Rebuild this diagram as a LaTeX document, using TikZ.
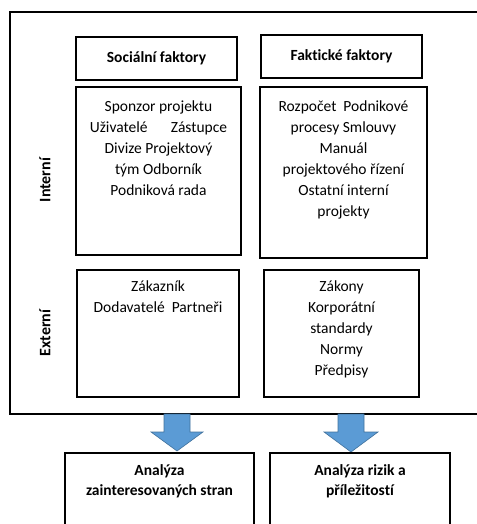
\documentclass[tikz,border=0pt]{standalone}
\usepackage{fontspec}
\setmainfont{Carlito}[Ligatures=NoCommon]

\definecolor{arrowblue}{HTML}{5B9BD5}
\definecolor{arrowedge}{HTML}{41719C}

\tikzset{
  box/.style={draw, line width=1.2pt, fill=white, inner sep=0pt},
  headbox/.style={box, font=\fontsize{15.5}{20}\selectfont\bfseries},
  boxtext/.style={anchor=north, align=center, inner sep=0pt,
    font=\fontsize{15.5}{21}\selectfont},
  sidelabel/.style={rotate=90, inner sep=0pt, font=\fontsize{16}{19}\selectfont\bfseries},
  blockarrow/.style={fill=arrowblue, draw=arrowedge, line width=0.6pt},
}

\begin{document}
\begin{tikzpicture}[x=1pt, y=-1pt]
  \useasboundingbox (0,0) rectangle (476,524);
  \draw[line width=1.8pt] (10,12) rectangle (484,414);

  % headings
  \node[headbox, minimum width=161pt, minimum height=43pt] (sochead) at (156.5,58.5) {Sociální faktory};
  \node[headbox, minimum width=161pt, minimum height=43pt] (fakthead) at (341.5,56.5) {Faktické faktory};

  % internal factors
  \node[box, minimum width=165pt, minimum height=168pt] (socint) at (158.5,171) {};
  \node[boxtext] (socinttext) at ([yshift=-14pt]socint.north)
    {Sponzor projektu\\Uživatelé\hspace{1.5em}Zástupce\\Divize Projektový\\tým Odborník\\Podniková rada};
  \node[box, minimum width=167pt, minimum height=171pt] (faktint) at (343.5,172.5) {};
  \node[boxtext] (faktinttext) at ([yshift=-14pt]faktint.north)
    {Rozpočet\ \ Podnikové\\procesy Smlouvy\\Manuál\\projektového řízení\\Ostatní interní\\projekty};

  % external factors
  \node[box, minimum width=162pt, minimum height=127pt] (socext) at (158,333.5) {};
  \node[boxtext] (socexttext) at ([yshift=-11pt]socext.north)
    {Zákazník\\Dodavatelé\ \ Partneři};
  \node[box, minimum width=155pt, minimum height=127pt] (faktext) at (341.5,333.5) {};
  \node[boxtext] (faktexttext) at ([yshift=-11pt]faktext.north)
    {Zákony\\Korporátní\\standardy\\Normy\\Předpisy};

  \node[sidelabel] (intern) at (45,180) {Interní};
  \node[sidelabel] (extern) at (45,333) {Externí};

  % block arrows
  \draw[blockarrow] (164,414) -- (190,414) -- (190,432) -- (203,432) -- (177,451)
    -- (151,432) -- (164,432) -- cycle;
  \draw[blockarrow] (338,414) -- (364,414) -- (364,432) -- (378,432) -- (351,452)
    -- (324,432) -- (338,432) -- cycle;

  % analyses
  \node[box, minimum width=189pt, minimum height=77pt] (stakeholders) at (159.5,491.5) {};
  \node[boxtext, font=\fontsize{15.5}{20.5}\selectfont\bfseries] (stakeholderstext)
    at ([yshift=-12pt]stakeholders.north) {Analýza\\zainteresovaných stran};
  \node[box, minimum width=180pt, minimum height=77pt] (risks) at (360,491.5) {};
  \node[boxtext, font=\fontsize{15.5}{20.5}\selectfont\bfseries] (riskstext)
    at ([yshift=-12pt]risks.north) {Analýza rizik a\\příležitostí};
\end{tikzpicture}
\end{document}
